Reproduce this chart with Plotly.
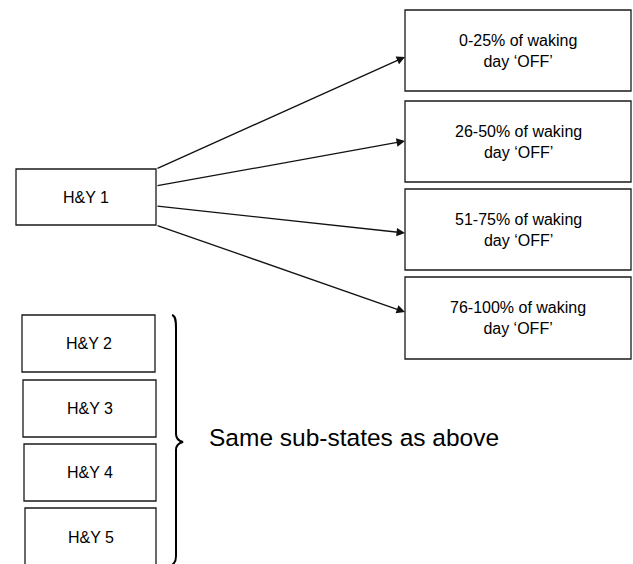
import plotly.graph_objects as go

# ---- content ----
source_label = "H&Y 1"
target_labels = [
    "0-25% of waking<br>day ‘OFF’",
    "26-50% of waking<br>day ‘OFF’",
    "51-75% of waking<br>day ‘OFF’",
    "76-100% of waking<br>day ‘OFF’",
]
other_labels = ["H&Y 2", "H&Y 3", "H&Y 4", "H&Y 5"]
brace_label = "Same sub-states as above"

# ---- geometry (pixel-like diagram coordinates) ----
W, H = 633, 564
src_box = (16, 169, 156, 225)                     # x0, y0, x1, y1
tgt_boxes = [(405, 10, 631, 91), (405, 101, 631, 182),
             (405, 189, 631, 270), (405, 277, 631, 359)]
arrow_start_y = [169, 186, 206, 225]
arrow_end_y = [57, 141, 233, 312]
other_boxes = [(22, 315, 155, 372), (23, 380, 156, 437),
               (24, 444, 156, 501), (25, 508, 156, 567)]

LINE = dict(color="#1a1a1a", width=1.3)
FONT = dict(family="Liberation Sans, Arial, sans-serif", size=16, color="black")

fig = go.Figure()
shapes = []
annotations = []

def add_box(b, label):
    x0, y0, x1, y1 = b
    shapes.append(dict(type="rect", xref="x", yref="y", x0=x0, y0=y0, x1=x1, y1=y1,
                       line=LINE, fillcolor="white", layer="above"))
    annotations.append(dict(xref="x", yref="y", x=(x0 + x1) / 2, y=(y0 + y1) / 2,
                            text=label, showarrow=False, font=FONT,
                            xanchor="center", yanchor="middle"))

add_box(src_box, source_label)
for b, lab in zip(tgt_boxes, target_labels):
    add_box(b, lab)
for b, lab in zip(other_boxes, other_labels):
    add_box(b, lab)

for ys, ye, b in zip(arrow_start_y, arrow_end_y, tgt_boxes):
    annotations.append(dict(xref="x", yref="y", axref="x", ayref="y",
                            x=b[0], y=ye, ax=src_box[2], ay=ys, text="",
                            showarrow=True, arrowhead=2, arrowsize=1.3,
                            arrowwidth=1.3, arrowcolor="#111", standoff=0,
                            startstandoff=0))

# curly brace
brace = ("M 172,315 C 176,316 176,322 176,328 L 176,434 "
         "C 176,438 179,441 183,442 C 179,443 176,446 176,450 "
         "L 176,556 C 176,560 175,563 172,565")
shapes.append(dict(type="path", xref="x", yref="y", path=brace,
                   line=dict(color="black", width=2)))

annotations.append(dict(xref="x", yref="y", x=207, y=437, text=brace_label,
                        showarrow=False, xanchor="left", yanchor="middle",
                        font=dict(family="Liberation Sans, Arial, sans-serif",
                                  size=24.5, color="black")))

fig.update_layout(
    width=W, height=H, margin=dict(l=0, r=0, t=0, b=0),
    paper_bgcolor="white", plot_bgcolor="white",
    xaxis=dict(range=[0, W], visible=False, fixedrange=True),
    yaxis=dict(range=[H, 0], visible=False, fixedrange=True),
    shapes=shapes, annotations=annotations, showlegend=False,
)

fig.write_html("out.html", config={"displayModeBar": False},
               post_script="document.body.style.margin='0';document.body.style.overflow='hidden';")
